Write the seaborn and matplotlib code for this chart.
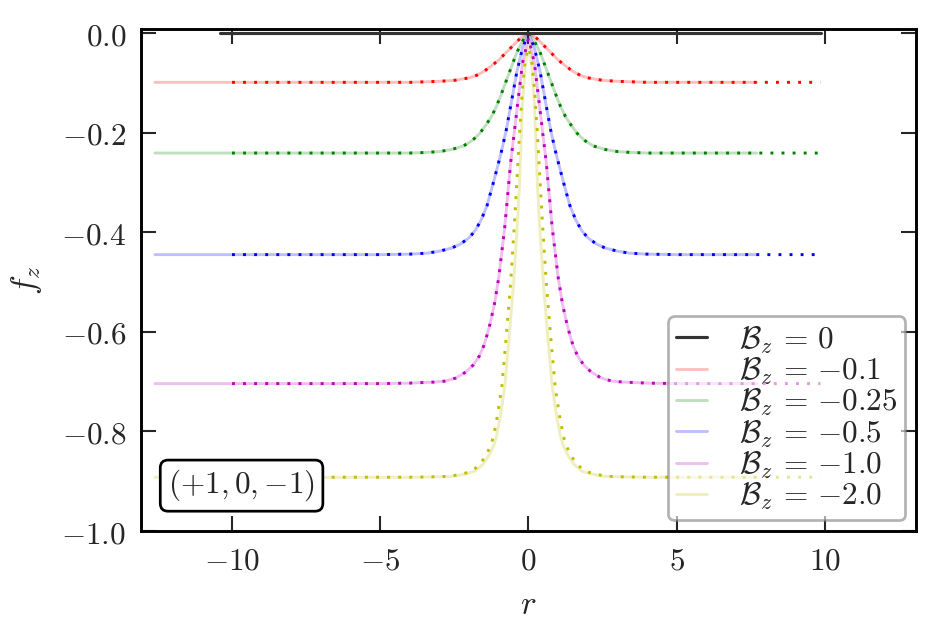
import numpy as np
import pandas as pd
import matplotlib
matplotlib.use("Agg")
import matplotlib.pyplot as plt
import seaborn as sns

# ---- data (half profiles for r >= 0, curves are symmetric in r) ----
r_red = [0, 0.25, 0.5, 0.75, 1.0, 1.25, 1.5, 1.75, 2.0, 2.5, 3.0, 3.5, 4.0, 5.0]
f_red = [0, -0.009, -0.024, -0.039, -0.054, -0.066, -0.077, -0.085, -0.090, -0.095, -0.097, -0.098, -0.099, -0.099]

r_green = [0, 0.1, 0.25, 0.4, 0.5, 0.65, 0.8, 0.95, 1.1, 1.25, 1.45, 1.65, 1.9, 2.2, 2.6, 3.0, 3.5, 4.0, 5.0]
f_green = [0, -0.005, -0.022, -0.040, -0.056, -0.080, -0.104, -0.128, -0.150, -0.168, -0.186, -0.202, -0.216, -0.227, -0.234, -0.238, -0.240, -0.241, -0.241]

r_blue = [0, 0.2, 0.4, 0.58, 0.75, 0.9, 1.05, 1.2, 1.4, 1.6, 1.8, 2.0, 2.3, 2.6, 3.0, 3.4, 4.0, 5.0]
f_blue = [0, -0.03, -0.08, -0.14, -0.195, -0.235, -0.27, -0.304, -0.347, -0.376, -0.397, -0.411, -0.424, -0.432, -0.438, -0.442, -0.444, -0.445]

r_mag = [0, 0.2, 0.4, 0.6, 0.8, 1.0, 1.15, 1.3, 1.4, 1.5, 1.66, 1.87, 2.12, 2.46, 2.82, 3.2, 4.0, 5.0]
f_mag = [-0.01, -0.06, -0.16, -0.26, -0.39, -0.49, -0.545, -0.585, -0.607, -0.627, -0.649, -0.667, -0.681, -0.693, -0.699, -0.701, -0.703, -0.704]

r_yel_dot = [0, 0.1, 0.2, 0.3, 0.45, 0.6, 0.75, 0.9, 1.05, 1.18, 1.27, 1.42, 1.63, 1.91, 2.26, 2.64, 3.0, 4.0, 5.0]
f_yel_dot = [-0.03, -0.05, -0.11, -0.20, -0.36, -0.50, -0.61, -0.71, -0.77, -0.81, -0.828, -0.847, -0.866, -0.880, -0.886, -0.890, -0.891, -0.892, -0.892]

r_yel_sol = [0, 0.1, 0.2, 0.3, 0.35, 0.5, 0.65, 0.8, 0.95, 1.08, 1.17, 1.32, 1.53, 1.81, 2.16, 2.54, 2.9, 3.9, 5.0]
f_yel_sol = [-0.03, -0.06, -0.14, -0.30, -0.36, -0.50, -0.61, -0.71, -0.77, -0.81, -0.828, -0.847, -0.866, -0.880, -0.886, -0.890, -0.891, -0.892, -0.892]

labels = [r"$\mathcal{B}_z\,=\,0$", r"$\mathcal{B}_z\,=\,{-}0.1$", r"$\mathcal{B}_z\,=\,{-}0.25$",
          r"$\mathcal{B}_z\,=\,{-}0.5$", r"$\mathcal{B}_z\,=\,{-}1.0$", r"$\mathcal{B}_z\,=\,{-}2.0$"]
colors = ["r", "g", "b", "m", "y"]

sol_extent = (-12.6, 7.7)
dot_extent = (-10.0, 9.85)
zero_extent = (-10.4, 9.88)

x_ticks = [-10, -5, 0, 5, 10]
x_ticklabels = [r"$-10$", r"$-5$", r"$0$", r"$5$", r"$10$"]
y_ticks = [0.0, -0.2, -0.4, -0.6, -0.8, -1.0]
y_ticklabels = [r"$0.0$", r"$-0.2$", r"$-0.4$", r"$-0.6$", r"$-0.8$", r"$-1.0$"]


def full_profile(r_half, f_half, extent):
    r = [extent[0]] + [-v for v in r_half[:0:-1]] + list(r_half) + [extent[1]]
    f = [f_half[-1]] + list(f_half[:0:-1]) + list(f_half) + [f_half[-1]]
    return pd.DataFrame({"r": r, "f": f})


sns.set_style("ticks")
plt.rcParams.update({
    "mathtext.fontset": "cm",
    "font.family": ["DejaVu Serif"],
    "xtick.direction": "in",
    "ytick.direction": "in",
    "xtick.top": True,
    "ytick.right": True,
    "xtick.major.size": 7,
    "ytick.major.size": 7,
    "xtick.major.width": 1.0,
    "ytick.major.width": 1.0,
    "axes.linewidth": 1.4,
    "axes.edgecolor": "black",
})

fig = plt.figure(figsize=(6.24, 4.2467), dpi=150)
ax = fig.add_axes([0.1506, 0.1664, 0.828, 0.788])

solid_sets = [(r_red, f_red), (r_green, f_green), (r_blue, f_blue), (r_mag, f_mag), (r_yel_sol, f_yel_sol)]
dot_sets = [(r_red, f_red), (r_green, f_green), (r_blue, f_blue), (r_mag, f_mag), (r_yel_dot, f_yel_dot)]

handles = []
zero_df = pd.DataFrame({"r": list(zero_extent), "f": [0.0, 0.0]})
sns.lineplot(data=zero_df, x="r", y="f", ax=ax, color="0.2", lw=1.5, zorder=3)
handles.append(ax.lines[-1])

for (rh, fh), c in zip(solid_sets, colors):
    df = full_profile(rh, fh, sol_extent)
    sns.lineplot(data=df, x="r", y="f", ax=ax, color=c, alpha=0.25, lw=1.4, zorder=2)
    handles.append(ax.lines[-1])

for (rh, fh), c in zip(dot_sets, colors):
    df = full_profile(rh, fh, dot_extent)
    sns.lineplot(data=df, x="r", y="f", ax=ax, color=c, lw=1.4, linestyle=(0, (1, 2.8)), zorder=2.5)

ax.set_xlim(-13.07, 13.07)
ax.set_ylim(-1.0, 0.008)
ax.set_xticks(x_ticks)
ax.set_xticklabels(x_ticklabels, fontsize=15)
ax.set_yticks(y_ticks)
ax.set_yticklabels(y_ticklabels, fontsize=15)
ax.tick_params(axis="both", which="major", pad=7)
ax.set_xlabel(r"$r$", fontsize=16, labelpad=6)
ax.set_ylabel(r"$f_z$", fontsize=16, labelpad=8)

leg = ax.legend(handles, labels, loc="lower right", bbox_to_anchor=(0.986, 0.022),
                borderaxespad=0, fontsize=15, handlelength=1.0, labelspacing=0.0,
                handletextpad=1.0, borderpad=0.25,
                framealpha=0.6, edgecolor="0.5", fancybox=True)
leg.get_frame().set_linewidth(1.3)

ax.text(0.035, 0.055, r"$(+1,0,{-}1)$", transform=ax.transAxes, fontsize=15,
        ha="left", va="bottom",
        bbox=dict(boxstyle="round,pad=0.25", fc="white", ec="black", lw=1.3))

fig.savefig("out.png", dpi=150)
